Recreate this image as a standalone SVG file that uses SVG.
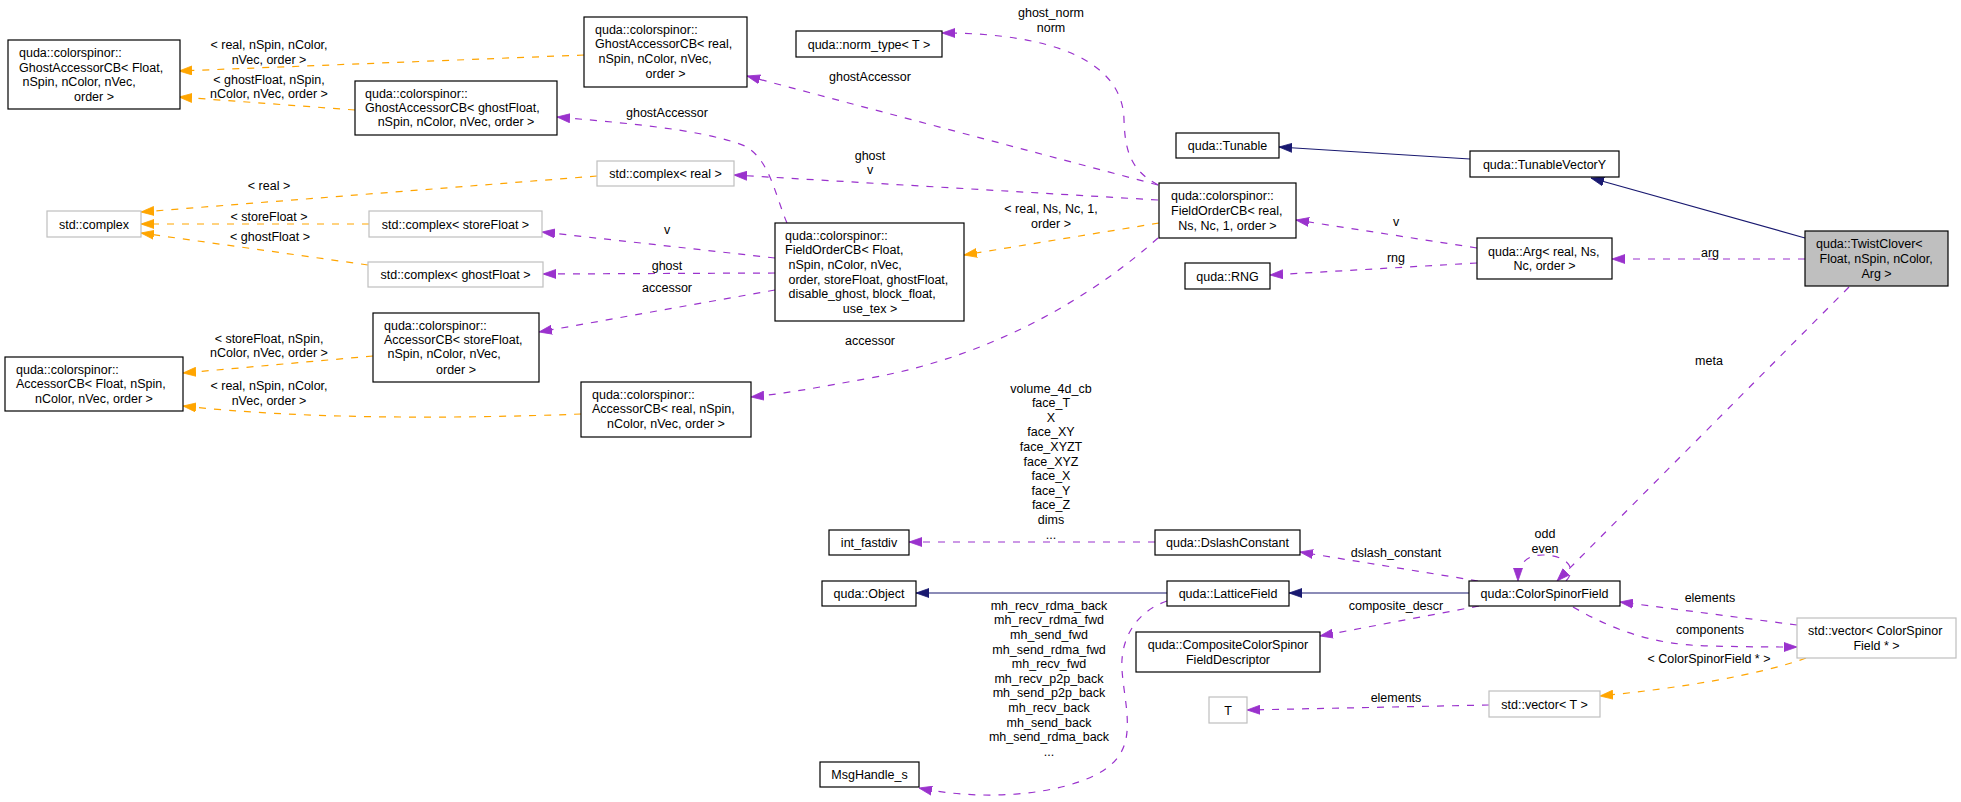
<svg xmlns="http://www.w3.org/2000/svg" width="1961" height="802" viewBox="0 0 1961 802">
<defs>
<marker id="ap" markerUnits="userSpaceOnUse" markerWidth="14" markerHeight="10" viewBox="0 0 14 10" refX="13" refY="5" orient="auto"><path d="M0,0.5 L13,5 L0,9.5 Z" fill="#9a32cd" stroke="#9a32cd" stroke-width="0.8"/></marker>
<marker id="ao" markerUnits="userSpaceOnUse" markerWidth="14" markerHeight="10" viewBox="0 0 14 10" refX="13" refY="5" orient="auto"><path d="M0,0.5 L13,5 L0,9.5 Z" fill="#ffa500" stroke="#ffa500" stroke-width="0.8"/></marker>
<marker id="an" markerUnits="userSpaceOnUse" markerWidth="14" markerHeight="10" viewBox="0 0 14 10" refX="13" refY="5" orient="auto"><path d="M0,0.5 L13,5 L0,9.5 Z" fill="#191970" stroke="#191970" stroke-width="0.8"/></marker>
</defs>
<style>
text{font-family:"Liberation Sans",Arial,sans-serif;font-size:12.5px;fill:#000}
.c{text-anchor:middle}
.n rect{fill:#fff;stroke:#000;stroke-width:1.2}
.g rect{fill:#fff;stroke:#bfbfbf;stroke-width:1.2}
.e path{fill:none;stroke-width:1.2}
.p{stroke:#9a32cd;stroke-dasharray:7,8;marker-end:url(#ap)}
.o{stroke:#ffa500;stroke-dasharray:7,8;marker-end:url(#ao)}
.s{stroke:#191970;marker-end:url(#an)}
</style>
<rect width="1961" height="802" fill="#fff"/>

<g id="edges" class="e">
<path class="o" d="M584,55 L179,71"/>
<path class="o" d="M355,110 L179,97"/>
<path class="o" d="M597,176 L141,212"/>
<path class="o" d="M369,224 L141,224"/>
<path class="o" d="M368,265 L141,233"/>
<path class="o" d="M373,356 L183,373"/>
<path class="o" d="M581,414 C450,419 300,419 183,406"/>
<path class="o" d="M1159,223 L964,255"/>
<path class="o" d="M1806,658 C1760,675 1680,688 1600,696"/>
<path class="s" d="M1470,159 L1279,147"/>
<path class="s" d="M1805,238 L1591,178"/>
<path class="s" d="M1167,593 L916,593"/>
<path class="s" d="M1469,593 L1289,593"/>
<path class="p" d="M787,223 C775,195 770,160 745,146 C700,128 610,122 557,117"/>
<path class="p" d="M1158,185 L747,76"/>
<path class="p" d="M1158,185 C1130,170 1125,150 1124,120 C1123,60 1050,33 942,33"/>
<path class="p" d="M1158,200 L734,175"/>
<path class="p" d="M1158,238 C1100,290 1000,355 870,378 C820,387 790,393 751,397"/>
<path class="p" d="M775,258 L542,232"/>
<path class="p" d="M775,273 L543,274"/>
<path class="p" d="M775,290 L539,332"/>
<path class="p" d="M1477,248 L1296,220"/>
<path class="p" d="M1477,263 L1270,275"/>
<path class="p" d="M1805,259 L1612,259"/>
<path class="p" d="M1849,287 L1557,581"/>
<path class="p" d="M1566,581 C1578,568 1566,555 1543,555 C1527,555 1518,563 1518,581"/>
<path class="p" d="M1155,542 L909,542"/>
<path class="p" d="M1478,581 L1300,552"/>
<path class="p" d="M1479,606 L1320,636"/>
<path class="p" d="M1167,601 C1135,612 1120,640 1122,670 C1124,700 1135,735 1118,757 C1095,790 1000,805 919,788"/>
<path class="p" d="M1573,607 C1610,628 1650,645 1710,646 C1750,647 1775,647 1797,647"/>
<path class="p" d="M1797,625 L1620,602"/>
<path class="p" d="M1489,705 L1247,710"/>

<text class="c" x="269" y="48.5">&lt; real, nSpin, nColor,</text>
<text class="c" x="269" y="63.5">nVec, order &gt;</text>
<text class="c" x="269" y="83.5">&lt; ghostFloat, nSpin,</text>
<text class="c" x="269" y="97.5">nColor, nVec, order &gt;</text>
<text class="c" x="269" y="189.5">&lt; real &gt;</text>
<text class="c" x="269" y="220.5">&lt; storeFloat &gt;</text>
<text class="c" x="270" y="240.5">&lt; ghostFloat &gt;</text>
<text class="c" x="269" y="342.5">&lt; storeFloat, nSpin,</text>
<text class="c" x="269" y="357">nColor, nVec, order &gt;</text>
<text class="c" x="269" y="389.5">&lt; real, nSpin, nColor,</text>
<text class="c" x="269" y="404.5">nVec, order &gt;</text>
<text class="c" x="667" y="116.5">ghostAccessor</text>
<text class="c" x="667" y="233.5">v</text>
<text class="c" x="667" y="269.5">ghost</text>
<text class="c" x="667" y="291.5">accessor</text>
<text class="c" x="870" y="80.5">ghostAccessor</text>
<text class="c" x="870" y="159.5">ghost</text>
<text class="c" x="870" y="173.5">v</text>
<text class="c" x="870" y="344.5">accessor</text>
<text class="c" x="1051" y="16.5">ghost_norm</text>
<text class="c" x="1051" y="31.5">norm</text>
<text class="c" x="1051" y="212.5">&lt; real, Ns, Nc, 1,</text>
<text class="c" x="1051" y="227.5">order &gt;</text>
<text class="c" x="1051" y="392.5">volume_4d_cb</text>
<text class="c" x="1051" y="407.1">face_T</text>
<text class="c" x="1051" y="421.7">X</text>
<text class="c" x="1051" y="436.3">face_XY</text>
<text class="c" x="1051" y="450.9">face_XYZT</text>
<text class="c" x="1051" y="465.5">face_XYZ</text>
<text class="c" x="1051" y="480.1">face_X</text>
<text class="c" x="1051" y="494.7">face_Y</text>
<text class="c" x="1051" y="509.3">face_Z</text>
<text class="c" x="1051" y="523.9">dims</text>
<text class="c" x="1051" y="538.5">...</text>
<text class="c" x="1049" y="609.5">mh_recv_rdma_back</text>
<text class="c" x="1049" y="624.2">mh_recv_rdma_fwd</text>
<text class="c" x="1049" y="638.8">mh_send_fwd</text>
<text class="c" x="1049" y="653.5">mh_send_rdma_fwd</text>
<text class="c" x="1049" y="668.1">mh_recv_fwd</text>
<text class="c" x="1049" y="682.8">mh_recv_p2p_back</text>
<text class="c" x="1049" y="697.4">mh_send_p2p_back</text>
<text class="c" x="1049" y="712.1">mh_recv_back</text>
<text class="c" x="1049" y="726.7">mh_send_back</text>
<text class="c" x="1049" y="741.4">mh_send_rdma_back</text>
<text class="c" x="1049" y="756">...</text>
<text class="c" x="1396" y="225.5">v</text>
<text class="c" x="1396" y="261.5">rng</text>
<text class="c" x="1396" y="556.5">dslash_constant</text>
<text class="c" x="1396" y="609.5">composite_descr</text>
<text class="c" x="1396" y="701.5">elements</text>
<text class="c" x="1710" y="256.5">arg</text>
<text class="c" x="1709" y="364.5">meta</text>
<text class="c" x="1545" y="537.5">odd</text>
<text class="c" x="1545" y="552.5">even</text>
<text class="c" x="1710" y="601.5">elements</text>
<text class="c" x="1710" y="633.5">components</text>
<text class="c" x="1709" y="662.5">&lt; ColorSpinorField * &gt;</text>
</g>

<g id="ghostAccessorCB_Float" class="n"><rect x="8" y="40" width="172" height="69"/>
<text x="19" y="57">quda::colorspinor::</text><text x="19" y="72">GhostAccessorCB&lt; Float,</text><text x="22.5" y="86">nSpin, nColor, nVec,</text><text class="c" x="94" y="101">order &gt;</text></g>

<g id="ghostAccessorCB_ghostFloat" class="n"><rect x="355" y="81" width="202" height="54"/>
<text x="365" y="97.5">quda::colorspinor::</text><text x="365" y="111.5">GhostAccessorCB&lt; ghostFloat,</text><text class="c" x="456" y="125.5">nSpin, nColor, nVec, order &gt;</text></g>

<g id="ghostAccessorCB_real" class="n"><rect x="584" y="17" width="163" height="70"/>
<text x="595" y="33.5">quda::colorspinor::</text><text x="595" y="47.5">GhostAccessorCB&lt; real,</text><text x="598.5" y="62.5">nSpin, nColor, nVec,</text><text class="c" x="665.5" y="77.5">order &gt;</text></g>

<g id="std_complex" class="g"><rect x="47" y="211" width="94" height="26"/>
<text class="c" x="94" y="228.5">std::complex</text></g>

<g id="std_complex_real" class="g"><rect x="597" y="161" width="137" height="25"/>
<text class="c" x="665.5" y="178">std::complex&lt; real &gt;</text></g>

<g id="std_complex_storeFloat" class="g"><rect x="369" y="211" width="173" height="26"/>
<text class="c" x="455.5" y="228.5">std::complex&lt; storeFloat &gt;</text></g>

<g id="std_complex_ghostFloat" class="g"><rect x="368" y="262" width="175" height="25"/>
<text class="c" x="455.5" y="279">std::complex&lt; ghostFloat &gt;</text></g>

<g id="accessorCB_storeFloat" class="n"><rect x="373" y="313" width="166" height="69"/>
<text x="384" y="329.5">quda::colorspinor::</text><text x="384" y="343.5">AccessorCB&lt; storeFloat,</text><text x="387.5" y="357.5">nSpin, nColor, nVec,</text><text class="c" x="456" y="373.5">order &gt;</text></g>

<g id="accessorCB_Float" class="n"><rect x="5" y="357" width="178" height="54"/>
<text x="16" y="373.5">quda::colorspinor::</text><text x="16" y="387.5">AccessorCB&lt; Float, nSpin,</text><text class="c" x="94" y="402.5">nColor, nVec, order &gt;</text></g>

<g id="accessorCB_real" class="n"><rect x="581" y="382" width="170" height="55"/>
<text x="592" y="398.5">quda::colorspinor::</text><text x="592" y="412.5">AccessorCB&lt; real, nSpin,</text><text class="c" x="666" y="427.5">nColor, nVec, order &gt;</text></g>

<g id="fieldOrderCB_Float" class="n"><rect x="775" y="223" width="189" height="98"/>
<text x="785" y="239.5">quda::colorspinor::</text><text x="785" y="253.5">FieldOrderCB&lt; Float,</text><text x="788.5" y="268.5">nSpin, nColor, nVec,</text><text x="788.5" y="283.5">order, storeFloat, ghostFloat,</text><text x="788.5" y="297.5">disable_ghost, block_float,</text><text class="c" x="870" y="312.5">use_tex &gt;</text></g>

<g id="norm_type" class="n"><rect x="796" y="31" width="146" height="26"/>
<text class="c" x="869" y="48.5">quda::norm_type&lt; T &gt;</text></g>

<g id="fieldOrderCB_real" class="n"><rect x="1159" y="183" width="137" height="55"/>
<text x="1171" y="199.5">quda::colorspinor::</text><text x="1171" y="214.5">FieldOrderCB&lt; real,</text><text class="c" x="1227.5" y="229.5">Ns, Nc, 1, order &gt;</text></g>

<g id="tunable" class="n"><rect x="1176" y="133" width="103" height="25"/>
<text class="c" x="1227.5" y="150">quda::Tunable</text></g>

<g id="tunableVectorY" class="n"><rect x="1470" y="151" width="149" height="26"/>
<text class="c" x="1544.5" y="168.5">quda::TunableVectorY</text></g>

<g id="rng" class="n"><rect x="1185" y="263" width="85" height="26"/>
<text class="c" x="1227.5" y="280.5">quda::RNG</text></g>

<g id="arg" class="n"><rect x="1477" y="238" width="135" height="41"/>
<text x="1488" y="255.5">quda::Arg&lt; real, Ns,</text><text class="c" x="1544.5" y="269.5">Nc, order &gt;</text></g>

<g id="twistClover"><rect x="1805" y="231" width="143" height="55" fill="#bfbfbf" stroke="#000" stroke-width="1.2"/>
<text x="1816" y="247.5">quda::TwistClover&lt;</text><text x="1819.5" y="262.5">Float, nSpin, nColor,</text><text class="c" x="1876.5" y="277.5">Arg &gt;</text></g>

<g id="int_fastdiv" class="n"><rect x="829" y="530" width="80" height="25"/>
<text class="c" x="869" y="547">int_fastdiv</text></g>

<g id="dslashConstant" class="n"><rect x="1155" y="530" width="145" height="25"/>
<text class="c" x="1227.5" y="547">quda::DslashConstant</text></g>

<g id="object" class="n"><rect x="822" y="581" width="94" height="25"/>
<text class="c" x="869" y="598">quda::Object</text></g>

<g id="latticeField" class="n"><rect x="1167" y="581" width="122" height="25"/>
<text class="c" x="1228" y="598">quda::LatticeField</text></g>

<g id="colorSpinorField" class="n"><rect x="1469" y="581" width="151" height="25"/>
<text class="c" x="1544.5" y="598">quda::ColorSpinorField</text></g>

<g id="compositeDescriptor" class="n"><rect x="1136" y="632" width="184" height="40"/>
<text class="c" x="1228" y="648.5">quda::CompositeColorSpinor</text><text class="c" x="1228" y="663.5">FieldDescriptor</text></g>

<g id="T" class="g"><rect x="1209" y="697" width="38" height="26"/>
<text class="c" x="1228" y="714.5">T</text></g>

<g id="vector_T" class="g"><rect x="1489" y="691" width="111" height="26"/>
<text class="c" x="1544.5" y="708.5">std::vector&lt; T &gt;</text></g>

<g id="vector_CSF" class="g"><rect x="1797" y="618" width="159" height="40"/>
<text x="1808" y="634.5">std::vector&lt; ColorSpinor</text><text class="c" x="1876.5" y="649.5">Field * &gt;</text></g>

<g id="msgHandle" class="n"><rect x="820" y="762" width="99" height="25"/>
<text class="c" x="869.5" y="779">MsgHandle_s</text></g>
</svg>
